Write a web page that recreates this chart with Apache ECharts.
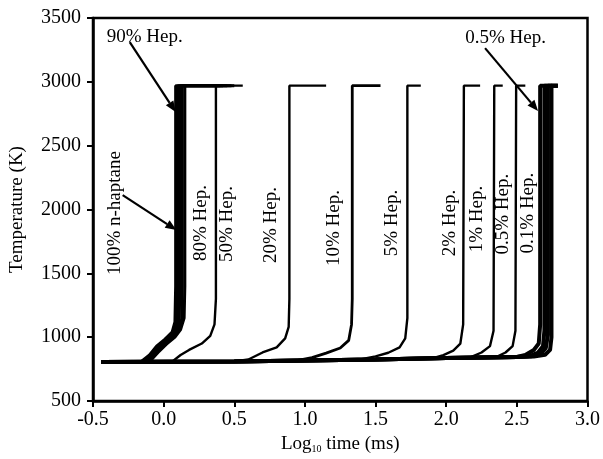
<!DOCTYPE html>
<html>
<head>
<meta charset="utf-8">
<script src="https://cdn.jsdelivr.net/npm/echarts@6/dist/echarts.min.js"></script>
<style>html,body{margin:0;padding:0;background:#fff}#c{width:603px;height:459px}</style>
</head>
<body>
<div id="c"></div>
<script>
// Axis ticks
var xTicks = [-0.5, 0.0, 0.5, 1.0, 1.5, 2.0, 2.5, 3.0];
var yTicks = [500, 1000, 1500, 2000, 2500, 3000, 3500];

// Curves: [log10 time (ms), temperature (K)]
var c100 = [[-0.44,805],[-0.16,808],[-0.10,860],[-0.05,930],[0.01,985],[0.06,1040],[0.08,1120],[0.085,1400],[0.085,2970],[0.40,2970]];
var c95  = [[-0.44,805],[-0.145,808],[-0.085,865],[-0.035,932],[0.025,988],[0.075,1045],[0.095,1125],[0.10,1400],[0.10,2970],[0.42,2970]];
var c90  = [[-0.44,805],[-0.13,808],[-0.07,870],[-0.02,935],[0.04,990],[0.09,1050],[0.11,1130],[0.115,1400],[0.115,2970],[0.45,2970]];
var c85  = [[-0.44,805],[-0.115,808],[-0.055,875],[0.00,940],[0.06,995],[0.105,1055],[0.128,1140],[0.132,1400],[0.132,2970],[0.48,2970]];
var c80  = [[-0.44,805],[-0.10,808],[-0.04,880],[0.02,945],[0.08,1000],[0.12,1060],[0.145,1150],[0.15,1400],[0.15,2970],[0.50,2970]];
var c50  = [[-0.44,805],[0.06,808],[0.12,860],[0.18,900],[0.27,950],[0.33,1010],[0.36,1100],[0.37,1300],[0.37,2970],[0.56,2970]];
var c20  = [[-0.44,805],[0.50,810],[0.60,825],[0.70,880],[0.80,920],[0.86,990],[0.885,1080],[0.89,1300],[0.89,2970],[1.15,2970]];
var c10  = [[-0.44,805],[0.50,810],[0.95,818],[1.05,840],[1.15,875],[1.25,915],[1.31,975],[1.33,1100],[1.335,1300],[1.335,2970],[1.535,2970]];
var c5   = [[-0.44,805],[0.50,810],[1.00,818],[1.40,828],[1.50,850],[1.59,878],[1.67,920],[1.71,990],[1.725,1150],[1.725,2970],[1.82,2970]];
var c2   = [[-0.44,805],[0.50,810],[1.00,818],[1.50,826],[1.90,834],[1.98,860],[2.05,895],[2.10,950],[2.12,1100],[2.125,2970],[2.24,2970]];
var c1   = [[-0.44,805],[0.50,810],[1.00,818],[1.50,826],[2.00,836],[2.17,842],[2.25,880],[2.31,930],[2.335,1050],[2.34,2970],[2.40,2970]];
var c05  = [[-0.44,805],[0.50,810],[1.00,818],[1.50,826],[2.00,836],[2.35,843],[2.42,880],[2.47,930],[2.49,1050],[2.495,2970],[2.56,2970]];
var c01  = [[-0.44,805],[0.50,810],[1.00,818],[1.50,826],[2.00,836],[2.50,845],[2.56,860],[2.62,900],[2.655,950],[2.665,1100],[2.665,2970],[2.75,2970]];
var c0a  = [[-0.44,805],[0.50,810],[1.00,818],[1.50,826],[2.00,836],[2.50,845],[2.59,852],[2.65,880],[2.685,930],[2.695,1050],[2.695,2970],[2.79,2970]];
var c0c  = [[-0.44,805],[0.50,810],[1.00,818],[1.50,826],[2.00,836],[2.50,845],[2.60,850],[2.67,870],[2.705,915],[2.72,1020],[2.72,2970],[2.79,2970]];
var c0b  = [[-0.44,805],[0.50,810],[1.00,818],[1.50,826],[2.00,836],[2.50,845],[2.62,848],[2.70,862],[2.735,900],[2.745,1000],[2.745,2970],[2.79,2970]];

// Vertical labels: text, log time, temperature (centre)
var vLabelText = ['100% n-haptane', '80% Hep.', '50% Hep.', '20% Hep.', '10% Hep.', '5% Hep.', '2% Hep.', '1% Hep.', '0.5% Hep.', '0.1% Hep.'];
var vLabelX    = [-0.345, 0.268, 0.451, 0.761, 1.204, 1.613, 2.028, 2.218, 2.401, 2.577];
var vLabelY    = [1972, 1894, 1886, 1878, 1855, 1894, 1894, 1925, 1964, 1972];

// Arrow annotations: text, text centre, arrow start, arrow end (data units)
var aText   = ['90% Hep.', '0.5% Hep.'];
var aTextX  = [-0.134, 2.42];
var aTextY  = [3350, 3343];
var arrFrom = [[-0.24, 3311], [-0.29, 2113], [2.275, 3264]];
var arrTo   = [[0.085, 2763], [0.09, 1839], [2.65, 2771]];

var FONT = '"Liberation Serif","Times New Roman",serif';
var curves = [c100, c95, c90, c85, c80, c50, c20, c10, c5, c2, c1, c05, c01, c0a, c0c, c0b];
var widths = [3, 3, 3, 3, 3, 2.4, 2.4, 2.8, 2.4, 2.4, 2.4, 2.4, 4, 4, 4, 4];

var chart = echarts.init(document.getElementById('c'));
var series = curves.map(function (d, i) {
  return {
    type: 'line', data: d, showSymbol: false, symbol: 'none', animation: false,
    lineStyle: { color: '#000', width: widths[i] }
  };
});

chart.setOption({
  backgroundColor: '#fff',
  animation: false,
  grid: { left: 93, right: 13, top: 18, bottom: 58, show: true, borderColor: '#000', borderWidth: 2.5 },
  xAxis: {
    type: 'value', min: -0.5, max: 3.0, interval: 0.5,
    name: 'Log{sub|10} time (ms)', nameLocation: 'middle', nameGap: 29,
    nameTextStyle: { fontFamily: FONT, fontSize: 19, color: '#000',
      rich: { sub: { fontFamily: FONT, fontSize: 10, color: '#000', verticalAlign: 'bottom', padding: [8, 0, 0, 0] } } },
    axisLine: { onZero: false, lineStyle: { color: '#000', width: 2.5 } },
    axisTick: { inside: false, length: 6, lineStyle: { color: '#000', width: 2 } },
    axisLabel: { margin: 9, fontFamily: FONT, fontSize: 20, color: '#000', formatter: function (v) { return v.toFixed(1); } },
    splitLine: { show: false }
  },
  yAxis: {
    type: 'value', min: 500, max: 3500, interval: 500,
    name: 'Temperature (K)', nameLocation: 'middle', nameGap: 66,
    nameTextStyle: { fontFamily: FONT, fontSize: 19, color: '#000' },
    axisLine: { onZero: false, lineStyle: { color: '#000', width: 2.5 } },
    axisTick: { inside: false, length: 6, lineStyle: { color: '#000', width: 2 } },
    axisLabel: { margin: 12, fontFamily: FONT, fontSize: 20, color: '#000', formatter: function (v) { return String(v); } },
    splitLine: { show: false }
  },
  series: series
});

function px(p) { return chart.convertToPixel({ gridIndex: 0 }, p); }
var graphics = [];
vLabelText.forEach(function (t, i) {
  var p = px([vLabelX[i], vLabelY[i]]);
  graphics.push({ type: 'text', x: p[0], y: p[1], rotation: Math.PI / 2,
    style: { text: t, font: '19px ' + FONT, fill: '#000', textAlign: 'center', textVerticalAlign: 'middle' }, z: 100 });
});
aText.forEach(function (t, i) {
  var p = px([aTextX[i], aTextY[i]]);
  graphics.push({ type: 'text', x: p[0], y: p[1],
    style: { text: t, font: '19px ' + FONT, fill: '#000', textAlign: 'center', textVerticalAlign: 'middle' }, z: 100 });
});
arrFrom.forEach(function (f, i) {
  var a = px(f), b = px(arrTo[i]);
  var dx = b[0] - a[0], dy = b[1] - a[1], L = Math.sqrt(dx * dx + dy * dy);
  var ux = dx / L, uy = dy / L, hl = 11, hw = 4.5;
  var bx = b[0] - ux * hl, by = b[1] - uy * hl;
  graphics.push({ type: 'line', shape: { x1: a[0], y1: a[1], x2: bx, y2: by }, style: { stroke: '#000', lineWidth: 2.2 }, z: 100 });
  graphics.push({ type: 'polygon', shape: { points: [[b[0], b[1]], [bx - uy * hw, by + ux * hw], [bx + uy * hw, by - ux * hw]] }, style: { fill: '#000' }, z: 100 });
});
chart.setOption({ graphic: graphics });
</script>
</body>
</html>
